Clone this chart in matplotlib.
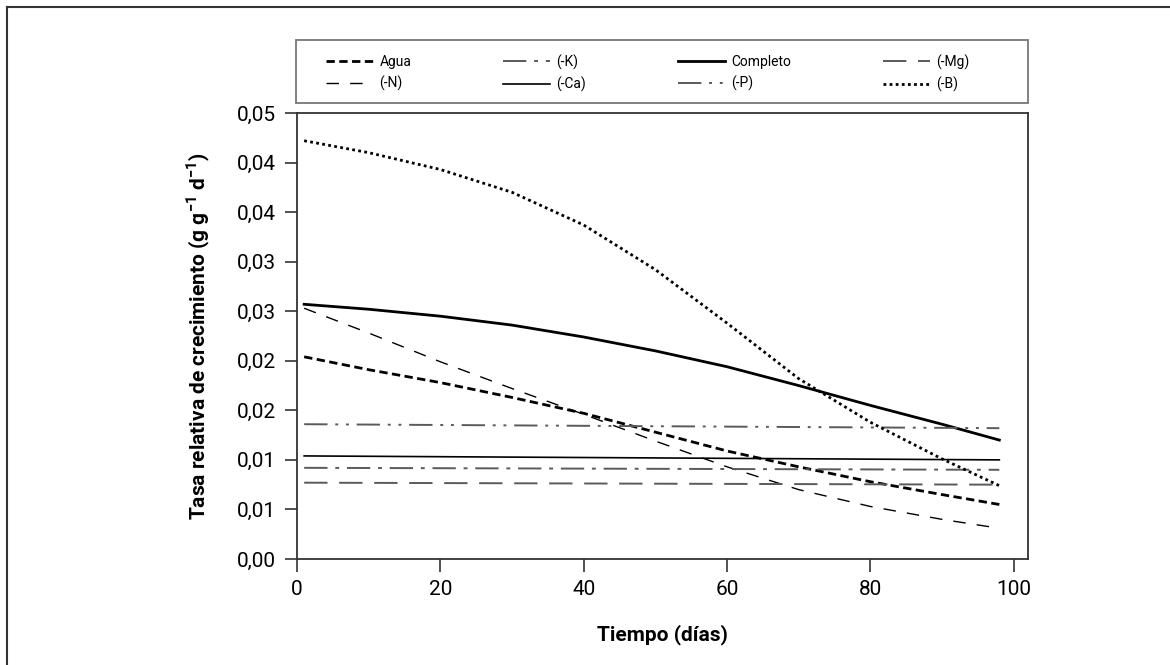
import matplotlib
matplotlib.use("Agg")
import matplotlib.pyplot as plt
from matplotlib.lines import Line2D
from matplotlib.patches import Rectangle

plt.rcParams['font.family'] = ['Liberation Sans Narrow', 'Roboto', 'DejaVu Sans']

# datos
dias = [1, 10, 20, 30, 40, 50, 60, 70, 80, 90, 98]
agua = [0.0204, 0.0191, 0.0178, 0.0163, 0.0147, 0.0128, 0.0109, 0.0093, 0.0078, 0.0065, 0.0055]
sin_n = [0.0253, 0.0228, 0.0199, 0.0172, 0.0146, 0.0119, 0.0093, 0.0070, 0.0053, 0.0040, 0.0031]
completo = [0.0257, 0.0252, 0.0245, 0.0236, 0.0224, 0.0210, 0.0194, 0.0175, 0.0155, 0.0136, 0.0120]
sin_b = [0.0422, 0.0410, 0.0393, 0.0370, 0.0337, 0.0292, 0.0238, 0.0182, 0.0138, 0.0101, 0.0074]

dias_rectas = [1, 98]
sin_p = [0.0136, 0.0132]
sin_ca = [0.0104, 0.0100]
sin_k = [0.0092, 0.0090]
sin_mg = [0.0077, 0.0075]

yticks = [0, 0.005, 0.010, 0.015, 0.020, 0.025, 0.030, 0.035, 0.040, 0.045]
ytick_labels = ['0,00', '0,01', '0,01', '0,02', '0,02', '0,03', '0,03', '0,04', '0,04', '0,05']
xticks = [0, 20, 40, 60, 80, 100]

gris = '#5a5a5a'
W, H = 1170, 665

fig = plt.figure(figsize=(11.7, 6.65), dpi=100)
ax = fig.add_axes([297 / W, 1 - 559 / H, (1028 - 297) / W, (559 - 113) / H])

l_agua, = ax.plot(dias, agua, color='black', lw=2.0, dashes=(3, 1.6), label='Agua')
l_n, = ax.plot(dias, sin_n, color='black', lw=1.0, dashes=(9, 8), label='(-N)')
l_k, = ax.plot(dias_rectas, sin_k, color=gris, lw=1.4, dashes=(12, 4, 2, 4), label='(-K)')
l_ca, = ax.plot(dias_rectas, sin_ca, color='black', lw=1.2, label='(-Ca)')
l_comp, = ax.plot(dias, completo, color='black', lw=2.0, label='Completo')
l_p, = ax.plot(dias_rectas, sin_p, color=gris, lw=1.4, dashes=(12, 4, 1.5, 4, 1.5, 4), label='(-P)')
l_mg, = ax.plot(dias_rectas, sin_mg, color=gris, lw=1.4, dashes=(12, 6), label='(-Mg)')
l_b, = ax.plot(dias, sin_b, color='black', lw=2.0, dashes=(1, 1.2), label='(-B)')

ax.set_xlim(0, 102)
ax.set_ylim(0, 0.045)
ax.set_xticks(xticks)
ax.set_yticks(yticks)
ax.set_yticklabels(ytick_labels)
ax.tick_params(direction='out', length=9, width=1.2, labelsize=15, pad=6, color='#333333')
for s in ax.spines.values():
    s.set_linewidth(1.3)
    s.set_color('#333333')

ax.set_xlabel('Tiempo (días)', fontsize=15, fontweight='bold', labelpad=18)
ax.set_ylabel('Tasa relativa de crecimiento (g g$^{\\mathregular{-1}}$ d$^{\\mathregular{-1}}$)',
              fontsize=15, fontweight='bold', labelpad=18)

# leyenda en caja propia sobre el gráfico
handles = [l_agua, l_n, l_k, l_ca, l_comp, l_p, l_mg, l_b]
fig.legend(handles=handles, loc='center left', ncol=4,
           bbox_to_anchor=(326 / W, 1 - 73 / H), frameon=False,
           fontsize=10, handlelength=3.4, handletextpad=0.45,
           columnspacing=6.6, labelspacing=0.5, borderpad=0, borderaxespad=0)
fig.add_artist(Rectangle((296 / W, 1 - 103 / H), (1028 - 296) / W, 63 / H,
                         transform=fig.transFigure, fill=False,
                         edgecolor='#777777', lw=1.3))

# borde de la figura
fig.add_artist(Line2D([7 / W, 7 / W], [0, 1 - 7 / H], color='#333333', lw=1.5))
fig.add_artist(Line2D([7 / W, 1], [1 - 7 / H, 1 - 7 / H], color='#333333', lw=1.5))

fig.savefig('out.png', dpi=100)
